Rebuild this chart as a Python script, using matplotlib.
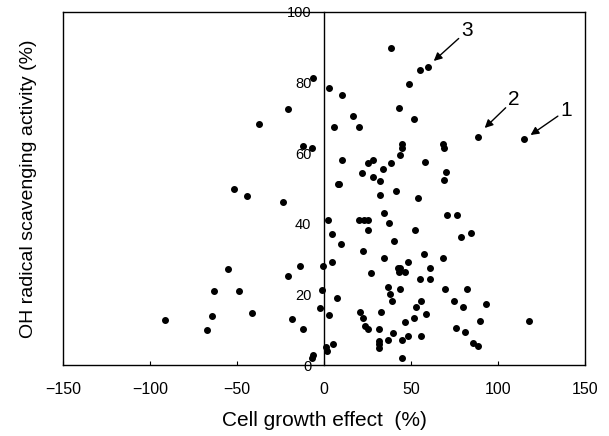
import numpy as np
import matplotlib
matplotlib.use("Agg")
import matplotlib.pyplot as plt

plt.rcParams['font.family'] = ['Liberation Sans', 'DejaVu Sans']

# Cell growth effect (%) vs OH radical scavenging activity (%)
growth = [
    -6.1, -20.5, -37.2, -11.9, -6.7, -51.7, 2.9, 5.7, 8.2,
    38.3, 55.2, 59.6, 49.0, 10.2, 43.3, 51.7, 16.5, 19.9,
    88.7, 115.1, 44.6, 44.8, 43.7, 68.2, 69.2, 10.5, 25.1, 28.0,
    38.3, 58.0, 21.8, 28.4, 34.1, 32.2, 8.6, 69.9, 69.2,
    32.4, 41.2, 54.2, 34.5, 70.5, 76.6, 2.5, 20.3, 23.2, 25.5,
    25.5, 37.5, 52.3, 78.5, 84.3, 4.4, 9.8, 40.4, 22.2, 57.3,
    34.5, 68.6, 48.5, -0.4, 4.6, 42.7, 43.7, 43.1, 46.7, 60.9,
    26.8, 55.2, 60.9, 36.8, 43.7, 69.5, 82.2, -1.3, 37.9, 39.1,
    7.3, 55.6, 74.7, 52.7, 79.7, 92.9, -2.1, 20.9, 32.9, 2.9,
    22.4, 58.6, 51.5, 46.7, 89.7, 117.6, 23.6, 25.5, 31.8, 75.7,
    81.0, 39.8, 48.1, 55.6, 37.0, 44.6, 31.8, 31.8, 31.8, 85.8,
    88.7, 5.0, 1.1, 1.5, 44.6, -6.1, -7.1,
    -44.4, -23.7, -55.2, -13.8, -20.9, -63.4, -48.7, -91.4, -64.4,
    -41.2, -18.2, -67.0, -12.3,
]
scavenging = [
    81.4, 72.4, 68.3, 62.1, 61.4, 50.0, 78.6, 67.3, 51.3,
    89.7, 83.7, 84.5, 79.6, 76.5, 72.7, 69.6, 70.6, 67.3,
    64.7, 63.9, 62.5, 61.4, 59.5, 62.5, 61.6, 58.1, 57.3, 58.2,
    57.3, 57.4, 54.3, 53.3, 55.4, 52.1, 51.3, 54.6, 52.3,
    48.3, 49.3, 47.4, 43.2, 42.5, 42.5, 41.1, 41.1, 41.1, 41.1,
    38.2, 40.3, 38.2, 36.4, 37.3, 37.0, 34.2, 35.1, 32.3, 31.5,
    30.2, 30.2, 29.3, 28.0, 29.3, 27.4, 27.4, 26.3, 26.3, 27.4,
    26.1, 24.3, 24.3, 22.2, 21.4, 21.4, 21.4, 21.2, 20.1, 18.1,
    19.1, 18.2, 18.2, 16.3, 16.4, 17.4, 16.2, 15.1, 15.0, 14.2,
    13.3, 14.4, 13.2, 12.3, 12.5, 12.5, 11.1, 10.2, 10.2, 10.4,
    9.3, 9.0, 8.2, 8.2, 7.0, 7.0, 6.8, 5.9, 4.9, 6.3,
    5.3, 6.0, 5.2, 4.0, 2.1, 2.8, 2.1,
    48.0, 46.1, 27.1, 28.0, 25.2, 21.0, 21.0, 12.7, 13.9,
    14.8, 13.1, 9.8, 10.1,
]

# labelled samples: (label, point, text position)
marked = ["1", "2", "3"]
marked_pts = [(117.4, 64.7), (91.2, 66.6), (61.9, 85.6)]
marked_txt = [(136.0, 69.5), (106.0, 72.5), (79.0, 92.0)]

xticks = [-150, -100, -50, 0, 50, 100, 150]
yticks = [0, 20, 40, 60, 80, 100]

fig = plt.figure(figsize=(6.09, 4.36), dpi=100)
ax = fig.add_axes([0.1034, 0.1628, 0.8572, 0.8097])

ax.scatter(growth, scavenging, s=16, color='black', zorder=3, clip_on=False)

for lab, pt, tx in zip(marked, marked_pts, marked_txt):
    ax.annotate(lab, xy=pt, xytext=tx, fontsize=15, ha='left', va='bottom',
                arrowprops=dict(arrowstyle='-|>', color='black', lw=1.0,
                                mutation_scale=12, shrinkA=0, shrinkB=2))

ax.set_xlim(-150, 150)
ax.set_ylim(0, 100)

# y axis sits on x = 0, frame closed with a line at x = -150
ax.spines['left'].set_position(('data', 0))
ax.axvline(-150, color='black', lw=1.0, clip_on=False)
for s in ax.spines.values():
    s.set_linewidth(1.0)

ax.set_xticks(xticks)
ax.set_yticks(yticks)
ax.tick_params(axis='x', direction='in', length=3, labelsize=11.5, pad=12)
ax.tick_params(axis='y', length=0, labelsize=10.5, pad=9)

ax.set_xlabel('Cell growth effect  (%)', fontsize=15, labelpad=10)
ax.set_ylabel('OH radical scavenging activity (%)', fontsize=14)
ax.yaxis.set_label_coords(-0.05, 0.5)

fig.savefig('out.png', dpi=100)
